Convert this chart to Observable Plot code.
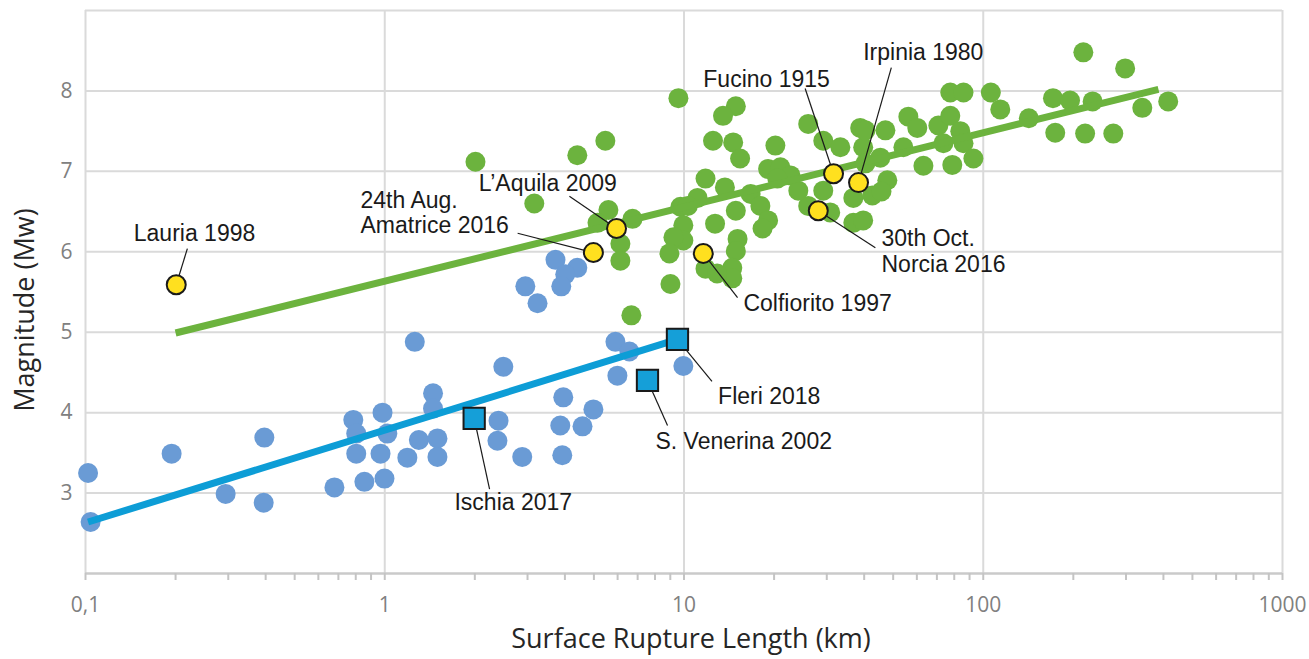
<!DOCTYPE html>
<html>
<head>
<meta charset="utf-8">
<script src="https://cdn.jsdelivr.net/npm/d3@7"></script>
<script src="https://cdn.jsdelivr.net/npm/@observablehq/plot@0.6"></script>
<style>
  html, body { margin: 0; padding: 0; background: #ffffff; }
  #chart svg { display: block; }
</style>
</head>
<body>
<div id="chart"></div>
<script>
// ---- Data (surface rupture length in km, magnitude Mw) ----
const volcanicPts = [
  [0.102,3.25],[0.104,2.64],[0.194,3.49],[0.294,2.99],[0.396,3.69],[0.394,2.88],[0.679,3.07],
  [0.785,3.91],[0.803,3.74],[0.803,3.49],[0.855,3.14],[0.983,4.00],[1.02,3.74],[0.968,3.49],
  [0.998,3.18],[1.26,4.88],[1.19,3.44],[1.30,3.66],[1.45,4.24],[1.45,4.05],[1.50,3.68],[1.50,3.45],
  [2.49,4.57],[2.40,3.90],[2.38,3.65],[2.88,3.45],[3.95,4.19],[3.86,3.84],[3.92,3.47],[4.58,3.83],
  [4.98,4.04],[5.90,4.88],[6.57,4.76],[5.99,4.46],[9.95,4.58],
  [3.72,5.90],[4.40,5.80],[4.01,5.72],[3.89,5.57],[2.95,5.57],[3.24,5.36]
];

const tectonicPts = [
  [2.01,7.12],[3.16,6.60],[4.40,7.20],[5.46,7.38],[9.58,7.91],[6.67,5.21],[9.01,5.60],
  [5.59,6.52],[5.14,6.36],[6.73,6.41],[6.13,6.10],[6.13,5.89],
  [9.73,6.56],[9.95,6.33],[9.95,6.14],[9.22,6.18],[8.94,5.98],[11.1,6.67],[11.8,6.91],
  [14.9,7.81],[13.5,7.69],[12.5,7.38],[14.6,7.36],[15.4,7.16],[20.2,7.32],[26.0,7.59],[29.2,7.38],
  [33.3,7.30],[38.8,7.54],[39.7,7.30],
  [10.3,6.57],[13.7,6.80],[14.9,6.51],[16.7,6.72],[18.0,6.57],[19.1,6.39],[18.3,6.29],[12.7,6.35],
  [15.1,6.16],[14.9,6.01],[14.5,5.80],[14.5,5.67],[11.8,5.79],[12.9,5.73],
  [19.1,7.03],[21.0,7.05],[22.7,6.95],[20.5,6.91],[26.0,6.57],[24.1,6.76],[29.2,6.76],[30.8,6.49],
  [36.8,6.36],[36.8,6.67],[42.6,6.70],[40.4,7.10],
  [77.6,7.98],[85.9,7.98],[106,7.98],[114,7.77],[142,7.66],[171,7.91],[174,7.48],[56.2,7.68],
  [60.2,7.54],[70.8,7.57],[77.6,7.69],[83.8,7.50],[85.9,7.35],[92.7,7.16],[78.8,7.08],[63.1,7.07],
  [54.1,7.30],[45.3,7.17],[47.1,7.51],[40.4,7.51],[73.6,7.35],[47.8,6.89],[45.7,6.75],[39.7,6.39],
  [216,8.48],[298,8.28],[195,7.88],[232,7.87],[340,7.79],[415,7.87],[219,7.47],[272,7.47]
];

// regression lines (end points)
const tectonicFitL = [0.2, 385];
const tectonicFitM = [4.99, 8.02];
const volcanicFitL = [0.102, 9.5];
const volcanicFitM = [2.64, 4.91];

// labelled Italian tectonic events (yellow)
const eventNames  = ["Lauria 1998", "24th Aug.\nAmatrice 2016", "L’Aquila 2009", "Colfiorito 1997", "30th Oct.\nNorcia 2016", "Fucino 1915", "Irpinia 1980"];
const eventLength = [0.201, 4.98, 5.95, 11.6, 28.1, 31.6, 38.3];
const eventMag    = [5.59, 5.99, 6.29, 5.98, 6.51, 6.97, 6.86];
const eventLabelL = [0.145, 0.830, 2.06, 15.8, 45.7, 11.6, 39.7];
const eventLabelM = [6.24, 6.49, 6.86, 5.36, 6.01, 8.15, 8.49];
const eventLeadL  = [0.219, 2.78, 4.14, 15.1, 43.6, 25.4, 49.3];
const eventLeadM  = [6.04, 6.23, 6.69, 5.43, 6.05, 8.03, 8.29];

// labelled volcanic events (blue squares)
const volcNames  = ["Ischia 2017", "S. Venerina 2002", "Fleri 2018"];
const volcLength = [1.99, 7.55, 9.51];
const volcMag    = [3.93, 4.40, 4.91];
const volcLabelL = [1.71, 8.03, 13.0];
const volcLabelM = [2.89, 3.65, 4.21];
const volcLeadL  = [2.24, 8.81, 12.4];
const volcLeadM  = [3.05, 3.84, 4.39];

// axis ticks
const xLabelTicks = [0.1, 1, 10, 100, 1000];
const xTickLabels = ["0,1", "1", "10", "100", "1000"];
const yTicks = [3, 4, 5, 6, 7, 8];
const yTickLabels = ["3", "4", "5", "6", "7", "8"];

// ---- build tables ----
const tectonicFit = tectonicFitL.map((L, i) => ({L, M: tectonicFitM[i]}));
const volcanicFit = volcanicFitL.map((L, i) => ({L, M: volcanicFitM[i]}));
const events = eventNames.map((name, i) => ({name, L: eventLength[i], M: eventMag[i], tL: eventLabelL[i], tM: eventLabelM[i], lL: eventLeadL[i], lM: eventLeadM[i]}));
const volcEvents = volcNames.map((name, i) => ({name, L: volcLength[i], M: volcMag[i], tL: volcLabelL[i], tM: volcLabelM[i], lL: volcLeadL[i], lM: volcLeadM[i]}));
const allLabels = events.concat(volcEvents);

const minorTicks = [];
for (let e = -1; e < 3; e++) for (let m = 1; m < 10; m++) minorTicks.push(+(m * Math.pow(10, e)).toPrecision(6));
minorTicks.push(1000);

const labelFont = "'Liberation Sans', Arial, sans-serif";

const chart = Plot.plot({
  width: 1309,
  height: 659,
  marginLeft: 85,
  marginRight: 27,
  marginTop: 10,
  marginBottom: 86,
  x: {type: "log", domain: [0.1, 1000]},
  y: {domain: [2, 9]},
  style: {fontFamily: "'Open Sans', sans-serif", background: "#ffffff", overflow: "visible"},
  marks: [
    Plot.gridX(xLabelTicks, {stroke: "#dadada", strokeOpacity: 1, strokeWidth: 2}),
    Plot.gridY([3, 4, 5, 6, 7, 8, 9], {stroke: "#dadada", strokeOpacity: 1, strokeWidth: 2}),
    Plot.ruleY([2], {stroke: "#cacaca", strokeWidth: 2.5}),
    Plot.axisX(minorTicks, {tickSize: 7, tickFormat: () => "", stroke: "#c4c4c4", strokeWidth: 2, label: null}),
    Plot.axisX(xLabelTicks, {tickSize: 0, tickPadding: 24, tickFormat: d => xTickLabels[xLabelTicks.indexOf(d)], fontSize: 21, color: "#808080", label: null}),
    Plot.axisY(yTicks, {tickSize: 0, tickPadding: 13, tickFormat: d => yTickLabels[yTicks.indexOf(d)], fontSize: 21, color: "#808080", label: null}),

    Plot.dot(volcanicPts, {x: d => d[0], y: d => d[1], r: 10, fill: "#6a9bd5"}),
    Plot.dot(tectonicPts, {x: d => d[0], y: d => d[1], r: 10, fill: "#6cb33e"}),
    Plot.line(tectonicFit, {x: "L", y: "M", stroke: "#6cb33e", strokeWidth: 7, strokeLinecap: "butt"}),
    Plot.line(volcanicFit, {x: "L", y: "M", stroke: "#0d9dd6", strokeWidth: 7, strokeLinecap: "butt"}),

    Plot.link(allLabels, {x1: "lL", y1: "lM", x2: "L", y2: "M", stroke: "#1a1a1a", strokeWidth: 1.2}),
    Plot.dot(events, {x: "L", y: "M", r: 9.5, fill: "#ffe01f", stroke: "#1a1a1a", strokeWidth: 2}),
    Plot.dot(volcEvents, {x: "L", y: "M", symbol: "square", r: 12, fill: "#159fd8", stroke: "#1a1a1a", strokeWidth: 2}),
    Plot.text(allLabels, {x: "tL", y: "tM", text: "name", textAnchor: "start", lineAnchor: "middle", lineHeight: 1.09, fontSize: 23, fontFamily: labelFont, fill: "#1a1a1a"}),

    Plot.text(["Magnitude (Mw)"], {frameAnchor: "left", textAnchor: "middle", lineAnchor: "middle", dx: -60, dy: 18, rotate: -90, fontSize: 27, fill: "#262626"}),
    Plot.text(["Surface Rupture Length (km)"], {frameAnchor: "bottom", textAnchor: "middle", dx: 7, dy: 66, lineAnchor: "middle", fontSize: 27, fill: "#262626"})
  ]
});

document.getElementById("chart").appendChild(chart);
</script>
</body>
</html>
